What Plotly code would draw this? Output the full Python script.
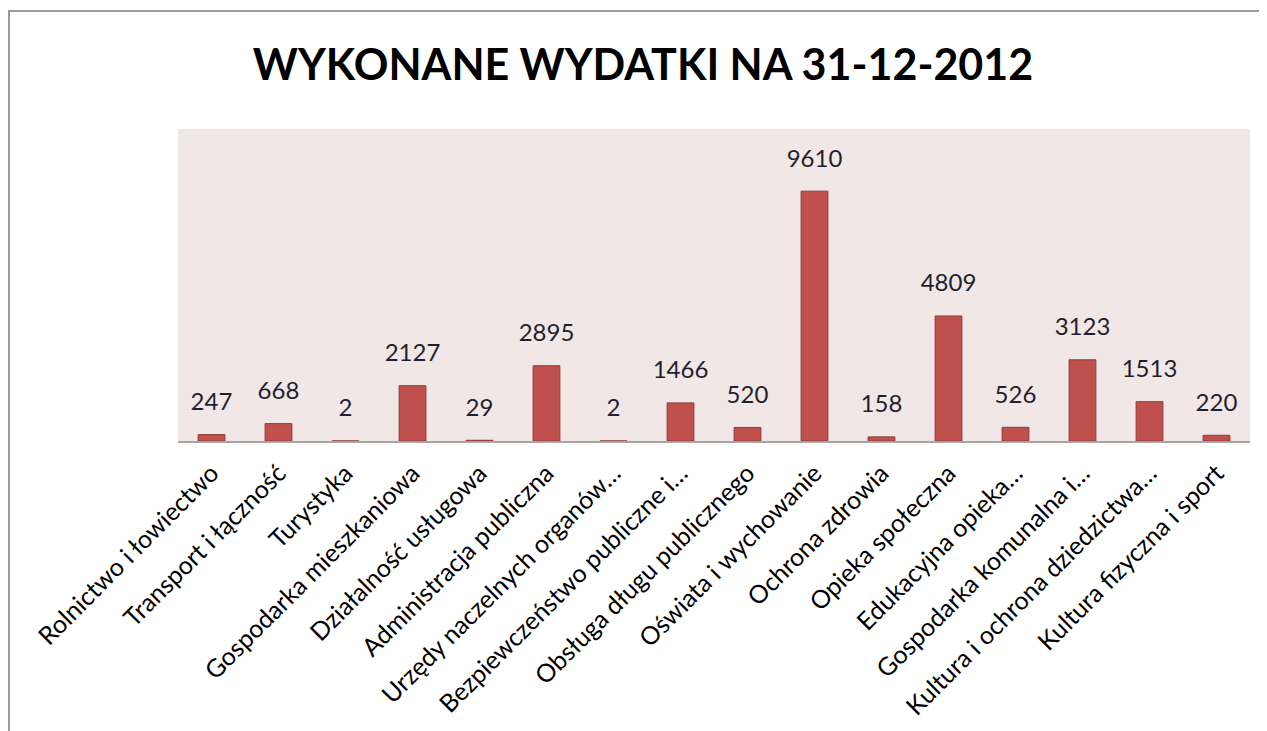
import plotly.graph_objects as go

categories = [
    "Rolnictwo i łowiectwo",
    "Transport i łączność",
    "Turystyka",
    "Gospodarka mieszkaniowa",
    "Działalność usługowa",
    "Administracja publiczna",
    "Urzędy naczelnych organów…",
    "Bezpiewczeństwo publiczne i…",
    "Obsługa długu publicznego",
    "Oświata i wychowanie",
    "Ochrona zdrowia",
    "Opieka społeczna",
    "Edukacyjna opieka…",
    "Gospodarka komunalna i…",
    "Kultura i ochrona dziedzictwa…",
    "Kultura fizyczna i sport",
]
values = [247, 668, 2, 2127, 29, 2895, 2, 1466, 520, 9610, 158, 4809, 526, 3123, 1513, 220]
title_text = "WYKONANE WYDATKI NA 31-12-2012"

# page body has an 8px margin, so figure coordinates are shifted by -8
OFF = 8
W, H = 1267, 731
L, R, T, B = 178 - OFF, 1250 - OFF, 129 - OFF, 441 - OFF  # plot area pixel bounds

def px(x):
    return (x - L) / (R - L)

def py(y):
    return (B - y) / (B - T)

FONT = "Lato, Open Sans, sans-serif"

fig = go.Figure()
fig.add_trace(
    go.Bar(
        x=categories,
        y=values,
        marker=dict(color="#C0504D", line=dict(color="#8C3A38", width=1)),
        hoverinfo="x+y",
    )
)
fig.add_trace(
    go.Scatter(
        x=categories,
        y=values,
        mode="markers+text",
        text=[str(v) for v in values],
        textposition="top center",
        marker=dict(size=28, color="rgba(0,0,0,0)"),
        textfont=dict(family=FONT, size=24, color="#1F1F2F"),
        cliponaxis=False,
        hoverinfo="skip",
    )
)

fig.update_layout(
    width=W,
    height=H,
    margin=dict(l=L, r=W - R, t=T, b=H - B, pad=0, autoexpand=False),
    paper_bgcolor="white",
    plot_bgcolor="#F2E7E7",
    bargap=0.6,
    showlegend=False,
    title=dict(
        text="<b>" + title_text + "</b>",
        x=(643 - OFF) / W,
        xanchor="center",
        y=1 - (65 - OFF) / H,
        yanchor="middle",
        font=dict(family=FONT, size=43, color="black"),
    ),
    xaxis=dict(
        range=[-0.5, len(categories) - 0.5],
        automargin=False,
        tickangle=-45,
        tickfont=dict(family=FONT, size=25, color="black"),
        showline=True,
        linecolor="#A6A6A6",
        linewidth=1.5,
        ticks="outside",
        ticklen=6,
        tickcolor="rgba(0,0,0,0)",
        showgrid=False,
    ),
    yaxis=dict(
        range=[0, 12000],
        visible=False,
        showgrid=False,
        zeroline=False,
    ),
    shapes=[
        dict(type="line", xref="paper", yref="paper",
             x0=px(8 - OFF), x1=px(1267), y0=py(11 - OFF), y1=py(11 - OFF),
             line=dict(color="#9A9A9A", width=2)),
        dict(type="line", xref="paper", yref="paper",
             x0=px(9 - OFF), x1=px(9 - OFF), y0=py(11 - OFF), y1=py(740),
             line=dict(color="#9A9A9A", width=2)),
    ],
)

fig.write_html("out.html")
